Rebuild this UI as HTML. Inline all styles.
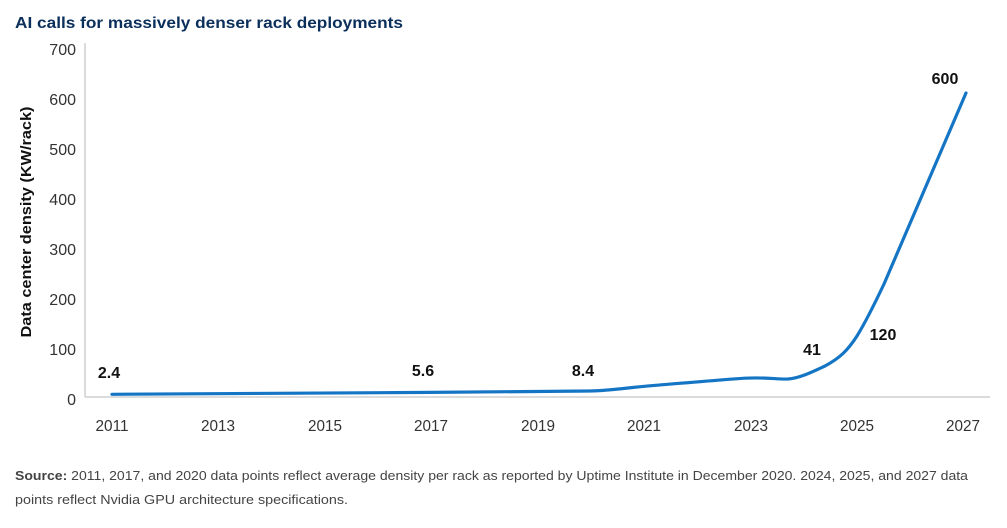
<!DOCTYPE html>
<html>
<head>
<meta charset="utf-8">
<style>
html,body{margin:0;padding:0;background:#fff;}
svg{display:block;}
text{font-family:"Liberation Sans",Arial,sans-serif;}
</style>
</head>
<body>
<svg width="1007" height="528" viewBox="0 0 1007 528" xmlns="http://www.w3.org/2000/svg">
  <rect width="1007" height="528" fill="#fff"/>
  <!-- Title -->
  <text x="15" y="28" font-size="16" font-weight="bold" fill="#0b2f5b" textLength="388" lengthAdjust="spacingAndGlyphs">AI calls for massively denser rack deployments</text>

  <!-- Y axis title -->
  <text transform="translate(31,222) rotate(-90)" text-anchor="middle" font-size="15" font-weight="bold" fill="#111" textLength="231" lengthAdjust="spacingAndGlyphs">Data center density (KW/rack)</text>

  <!-- Axes -->
  <line x1="85" y1="43" x2="85" y2="397" stroke="#cfcfcf" stroke-width="1.5"/>
  <line x1="85" y1="397" x2="990" y2="397" stroke="#cfcfcf" stroke-width="1.5"/>

  <!-- Y tick labels -->
  <g font-size="16" fill="#333" text-anchor="end">
    <text x="76" y="55">700</text>
    <text x="76" y="105">600</text>
    <text x="76" y="155">500</text>
    <text x="76" y="205">400</text>
    <text x="76" y="255">300</text>
    <text x="76" y="305">200</text>
    <text x="76" y="355">100</text>
    <text x="76" y="405">0</text>
  </g>

  <!-- X tick labels -->
  <g font-size="16" fill="#333" text-anchor="middle">
    <text x="112" y="431" textLength="33" lengthAdjust="spacingAndGlyphs">2011</text>
    <text x="218" y="431" textLength="34" lengthAdjust="spacingAndGlyphs">2013</text>
    <text x="325" y="431" textLength="34" lengthAdjust="spacingAndGlyphs">2015</text>
    <text x="431" y="431" textLength="34" lengthAdjust="spacingAndGlyphs">2017</text>
    <text x="538" y="431" textLength="34" lengthAdjust="spacingAndGlyphs">2019</text>
    <text x="644" y="431" textLength="34" lengthAdjust="spacingAndGlyphs">2021</text>
    <text x="751" y="431" textLength="34" lengthAdjust="spacingAndGlyphs">2023</text>
    <text x="857" y="431" textLength="34" lengthAdjust="spacingAndGlyphs">2025</text>
    <text x="963" y="431" textLength="34" lengthAdjust="spacingAndGlyphs">2027</text>
  </g>

  <!-- Series -->
  <path d="M112,394.3 L430,392.4 L590,391 C612,390.6 628,387.5 650,385.8 C690,382.5 720,379.8 745,378.2 C765,377 778,379.5 788,379 C800,378 812,372 825,366 C840,358 848,350 857,336 C865,323 875,303 884,284 L966,93"
        fill="none" stroke="#1575c5" stroke-width="3.2" stroke-linecap="round" stroke-linejoin="round"/>

  <!-- Data labels -->
  <g font-size="16" font-weight="bold" fill="#111" text-anchor="middle">
    <text x="109" y="378">2.4</text>
    <text x="423" y="376">5.6</text>
    <text x="583" y="376">8.4</text>
    <text x="812" y="355">41</text>
    <text x="883" y="340">120</text>
    <text x="945" y="84">600</text>
  </g>

  <!-- Source -->
  <text x="15" y="480" font-size="13" fill="#444" textLength="953" lengthAdjust="spacingAndGlyphs"><tspan font-weight="bold">Source:</tspan> 2011, 2017, and 2020 data points reflect average density per rack as reported by Uptime Institute in December 2020. 2024, 2025, and 2027 data</text>
  <text x="15" y="504" font-size="13" fill="#444" textLength="333" lengthAdjust="spacingAndGlyphs">points reflect Nvidia GPU architecture specifications.</text>
</svg>
</body>
</html>
